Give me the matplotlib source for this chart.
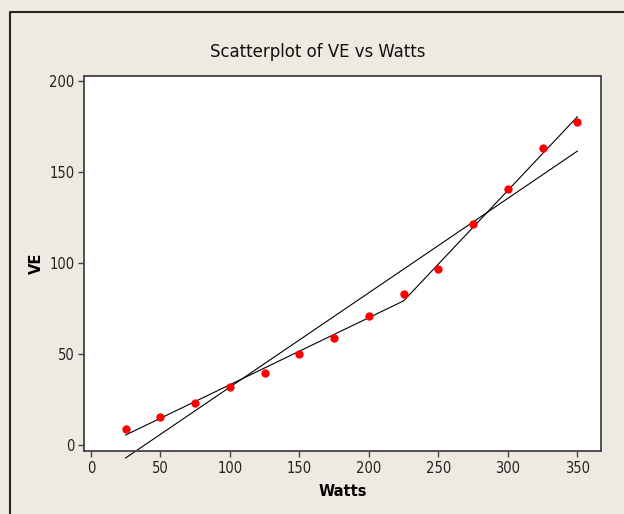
import numpy as np
import matplotlib
matplotlib.use("Agg")
import matplotlib.pyplot as plt
from matplotlib.lines import Line2D
from matplotlib import font_manager as fm

watts = np.array([25, 50, 75, 100, 125, 150, 175, 200, 225, 250, 275, 300, 325, 350], dtype=float)
ve = np.array([8.6, 15.2, 23.2, 32.0, 39.7, 50.0, 58.6, 70.9, 83.0, 96.7, 121.3, 140.8, 163.0, 177.3])
knot = 225.0
xticks = [0, 50, 100, 150, 200, 250, 300, 350]
yticks = [0, 50, 100, 150, 200]

bg = "#EEE9E1"
spine_c = "#444444"
cond = any(f.name == 'DejaVu Sans' and f.stretch in ('condensed', 'semi-condensed', 600, 500)
           for f in fm.fontManager.ttflist)
fam = ['DejaVu Sans']
stretch = 'condensed' if cond else 'normal'
title_size = 13.2 if cond else 12.0

fig = plt.figure(figsize=(6.24, 5.14), dpi=100, facecolor=bg)
ax = fig.add_axes([84/624, 1-451/514, (601-84)/624, (451-76)/514])
ax.set_facecolor("white")

# simple linear regression
slope, intercept = np.polyfit(watts, ve, 1)
xl = np.array([watts.min(), watts.max()])
ax.plot(xl, intercept + slope*xl, color="black", lw=0.8, clip_on=False, zorder=2)

# piecewise linear regression with hinge at knot
A = np.column_stack([np.ones_like(watts), watts, np.maximum(watts-knot, 0)])
coef, *_ = np.linalg.lstsq(A, ve, rcond=None)
xp = np.array([watts.min(), knot, watts.max()])
Ap = np.column_stack([np.ones_like(xp), xp, np.maximum(xp-knot, 0)])
ax.plot(xp, Ap @ coef, color="black", lw=0.8, clip_on=False, zorder=2)

ax.plot(watts, ve, 'o', color="#FF0000", markersize=6, markeredgewidth=0, zorder=3)

ax.set_xlim(-5, 367)
ax.set_ylim(-3.3, 202.7)
ax.set_xticks(xticks)
ax.set_yticks(yticks)
ax.tick_params(direction="out", length=4, width=1, color=spine_c, labelsize=10.5,
               labelcolor="#222222", pad=3)
for lab in ax.get_xticklabels() + ax.get_yticklabels():
    lab.set_family(fam)
    lab.set_stretch(stretch)
for s in ax.spines.values():
    s.set_color(spine_c)
    s.set_linewidth(1.3)

ax.set_xlabel("Watts", fontsize=10.5, fontweight="bold", labelpad=6, family=fam)
ax.set_ylabel("VE", fontsize=10.5, fontweight="bold", labelpad=4, family=fam)

fig.text(318/624, 1-57/514, "Scatterplot of VE vs Watts", ha="center", va="baseline",
         fontsize=title_size, family=fam, fontstretch=stretch, color="#111111")

# outer frame
fig.add_artist(Line2D([10/624, 10/624, 1.0], [0.0, 1-12/514, 1-12/514],
                      transform=fig.transFigure, color="#222222", lw=1.5))

fig.savefig("out.png", dpi=100, facecolor=bg)
